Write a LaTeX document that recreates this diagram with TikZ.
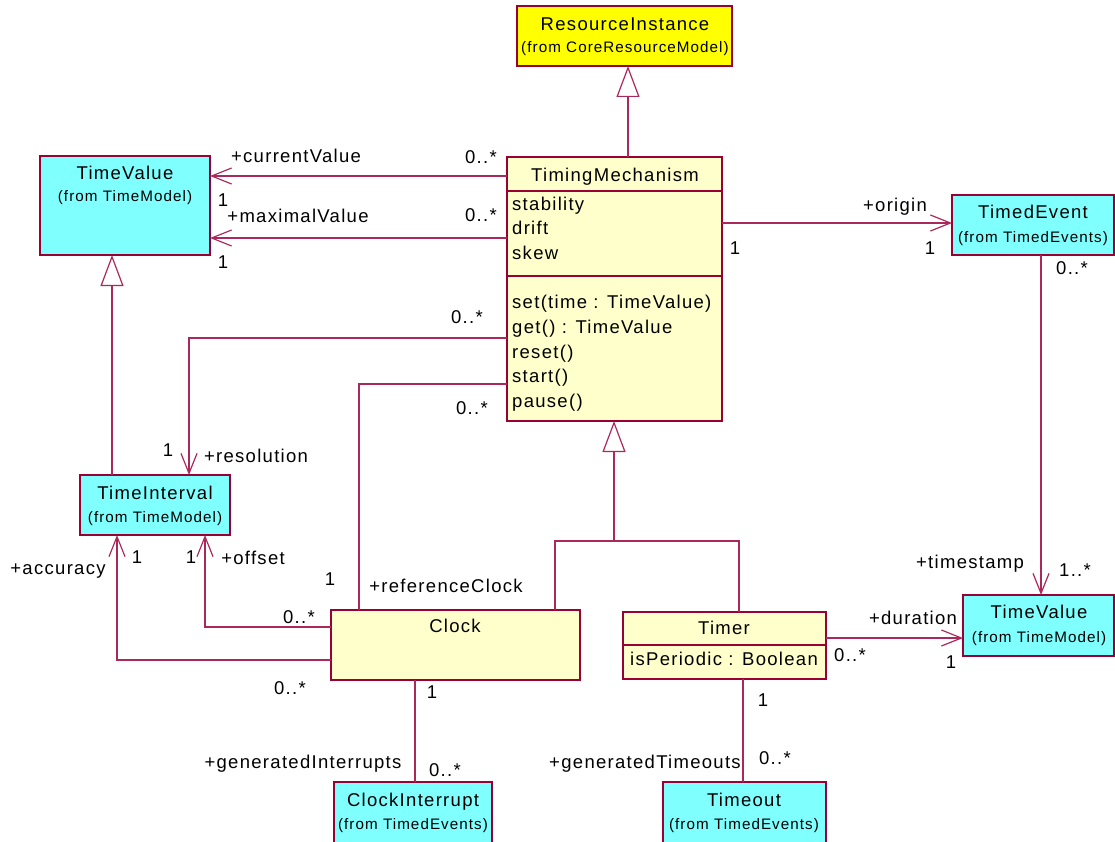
\documentclass[tikz,border=0pt]{standalone}
\usepackage{fontspec}
\setmainfont{Liberation Sans}[LetterSpace=7]
\usetikzlibrary{arrows.meta}
\definecolor{bord}{RGB}{153,0,51}
\definecolor{lnc}{RGB}{170,40,90}
\definecolor{ryellow}{RGB}{255,255,0}
\definecolor{cream}{RGB}{255,255,204}
\definecolor{rcyan}{RGB}{128,255,255}
\begin{document}
\begin{tikzpicture}[x=1pt,y=-1pt,
 cls/.style={draw=bord,line width=1.5pt,inner sep=0pt,outer sep=0pt,anchor=north west,rectangle},
 ybox/.style={cls,fill=ryellow},
 cbox/.style={cls,fill=cream},
 bbox/.style={cls,fill=rcyan},
 txt/.style={inner sep=0pt,text height=13.5pt,text depth=0pt,font=\fontsize{18.5}{20}\selectfont},
 sml/.style={inner sep=0pt,text height=11pt,text depth=0pt,font=\fontsize{15.2}{17}\selectfont},
 ln/.style={draw=lnc,line width=1.2pt,line join=miter},
 nav/.style={ln,-{Straight Barb[length=20pt,width=16pt]}},
 gen/.style={ln,-{Triangle[length=31pt,width=23pt,fill=white]}},
 sep/.style={draw=bord,line width=1.5pt}
]
\useasboundingbox (0,0) rectangle (1115,842);
% ---------- boxes
\node[ybox,minimum width=215pt,minimum height=60pt] (RI) at (517,6) {};
\node[cbox,minimum width=215pt,minimum height=264pt] (TM) at (507,157) {};
\node[bbox,minimum width=170pt,minimum height=99pt] (TV1) at (40,156) {};
\node[bbox,minimum width=162pt,minimum height=60pt] (TE) at (952,195) {};
\node[bbox,minimum width=150pt,minimum height=60pt] (TI) at (80,475) {};
\node[cbox,minimum width=249pt,minimum height=70pt] (CK) at (331,610) {};
\node[cbox,minimum width=203pt,minimum height=67pt] (TR) at (623,612) {};
\node[bbox,minimum width=151pt,minimum height=61pt] (TV2) at (963,595) {};
\node[bbox,minimum width=158pt,minimum height=64pt] (CI) at (334,782) {};
\node[bbox,minimum width=163pt,minimum height=64pt] (TO) at (663,782) {};
% separators
\coordinate (s1) at (0,191);
\coordinate (s2) at (0,276);
\coordinate (s3) at (0,645);
\draw[sep] (TM.west |- s1) -- (TM.east |- s1);
\draw[sep] (TM.west |- s2) -- (TM.east |- s2);
\draw[sep] (TR.west |- s3) -- (TR.east |- s3);
% ---------- box texts
\node[txt] (tRI) at (625,24) {ResourceInstance};
\node[sml] (fRI) at (625,47) {(from CoreResourceModel)};
\node[txt] (tTM) at (615,175) {TimingMechanism};
\node[txt,anchor=west] (a1) at (512,204) {stability};
\node[txt,anchor=west] (a2) at (512,228) {drift};
\node[txt,anchor=west] (a3) at (512,253) {skew};
\node[txt,anchor=west] (o1) at (512,302) {set(time : TimeValue)};
\node[txt,anchor=west] (o2) at (512,327) {get() : TimeValue};
\node[txt,anchor=west] (o3) at (512,352) {reset()};
\node[txt,anchor=west] (o4) at (512,376) {start()};
\node[txt,anchor=west] (o5) at (512,401) {pause()};
\node[txt] (tTV1) at (125,173) {TimeValue};
\node[sml] (fTV1) at (125,196) {(from TimeModel)};
\node[txt] (tTE) at (1033,212) {TimedEvent};
\node[sml] (fTE) at (1033,237) {(from TimedEvents)};
\node[txt] (tTI) at (155,493) {TimeInterval};
\node[sml] (fTI) at (155,517) {(from TimeModel)};
\node[txt] (tCK) at (455,626) {Clock};
\node[txt] (tTR) at (724,628) {Timer};
\node[txt] (aTR) at (724,659) {isPeriodic : Boolean};
\node[txt] (tTV2) at (1039,612) {TimeValue};
\node[sml] (fTV2) at (1039,637) {(from TimeModel)};
\node[txt] (tCI) at (413,800) {ClockInterrupt};
\node[sml] (fCI) at (413,824) {(from TimedEvents)};
\node[txt] (tTO) at (744,800) {Timeout};
\node[sml] (fTO) at (744,824) {(from TimedEvents)};
% ---------- helper coordinates
\coordinate (ycur) at (0,176);
\coordinate (ymax) at (0,238);
\coordinate (yori) at (0,223);
\coordinate (xts) at (1041,0);
\coordinate (yres) at (0,338);
\coordinate (xres) at (189,0);
\coordinate (yref) at (0,384);
\coordinate (xref) at (359,0);
\coordinate (xgen) at (614,0);
\coordinate (ygen) at (0,541);
\coordinate (xgc) at (555,0);
\coordinate (xgt) at (739,0);
\coordinate (yoff) at (0,627);
\coordinate (xoff) at (205,0);
\coordinate (yacc) at (0,660);
\coordinate (xacc) at (117,0);
\coordinate (xti) at (112,0);
\coordinate (xci) at (415,0);
\coordinate (xto) at (743,0);
\coordinate (ydur) at (0,638);
\coordinate (xri) at (628,0);
% ---------- connectors
\draw[gen] (TM.north -| xri) -- (RI.south -| xri);
\draw[nav] (TM.west |- ycur) -- (TV1.east |- ycur);
\draw[nav] (TM.west |- ymax) -- (TV1.east |- ymax);
\draw[nav] (TM.east |- yori) -- (TE.west |- yori);
\draw[nav] (TE.south -| xts) -- (TV2.north -| xts);
\draw[nav] (TM.west |- yres) -- (xres |- yres) -- (TI.north -| xres);
\draw[ln] (TM.west |- yref) -- (xref |- yref) -- (CK.north -| xref);
\draw[gen] (CK.north -| xgc) -- (xgc |- ygen) -- (xgen |- ygen) -- (TM.south -| xgen);
\draw[ln] (TR.north -| xgt) -- (xgt |- ygen) -- (xgen |- ygen);
\draw[nav] (CK.west |- yoff) -- (xoff |- yoff) -- (TI.south -| xoff);
\draw[nav] (CK.west |- yacc) -- (xacc |- yacc) -- (TI.south -| xacc);
\draw[gen] (TI.north -| xti) -- (TV1.south -| xti);
\draw[ln] (CK.south -| xci) -- (CI.north -| xci);
\draw[ln] (TR.south -| xto) -- (TO.north -| xto);
\draw[nav] (TR.east |- ydur) -- (TV2.west |- ydur);
% ---------- labels
\node[txt] (l1) at (296,156) {+currentValue};
\node[txt] (l2) at (481,157) {0..*};
\node[txt] (l3) at (223,200) {1};
\node[txt] (l4) at (298,216) {+maximalValue};
\node[txt] (l5) at (481,215) {0..*};
\node[txt] (l6) at (223,262) {1};
\node[txt] (l7) at (895,205) {+origin};
\node[txt] (l8) at (735,248) {1};
\node[txt] (l9) at (930,248) {1};
\node[txt] (l10) at (1072,268) {0..*};
\node[txt] (l11) at (970,562) {+timestamp};
\node[txt] (l12) at (1075,570) {1..*};
\node[txt] (l13) at (467,317) {0..*};
\node[txt] (l14) at (168,450) {1};
\node[txt] (l15) at (256,456) {+resolution};
\node[txt] (l16) at (472,408) {0..*};
\node[txt] (l17) at (330,579) {1};
\node[txt] (l18) at (446,586) {+referenceClock};
\node[txt] (l19) at (58,568) {+accuracy};
\node[txt] (l20) at (137,557) {1};
\node[txt] (l21) at (191,557) {1};
\node[txt] (l22) at (253,558) {+offset};
\node[txt] (l23) at (299,617) {0..*};
\node[txt] (l24) at (290,688) {0..*};
\node[txt] (l25) at (432,692) {1};
\node[txt] (l26) at (303,762) {+generatedInterrupts};
\node[txt] (l27) at (445,770) {0..*};
\node[txt] (l28) at (763,700) {1};
\node[txt] (l29) at (645,762) {+generatedTimeouts};
\node[txt] (l30) at (775,758) {0..*};
\node[txt] (l31) at (913,618) {+duration};
\node[txt] (l32) at (850,655) {0..*};
\node[txt] (l33) at (951,662) {1};
\end{tikzpicture}
\end{document}
